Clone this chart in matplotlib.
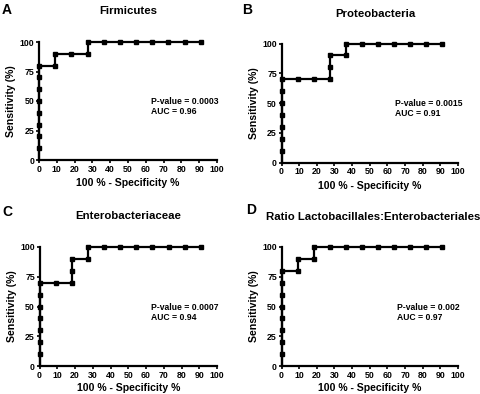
import matplotlib
matplotlib.use("Agg")
import matplotlib.pyplot as plt

plt.rcParams['font.family'] = ['Liberation Sans', 'DejaVu Sans']
plt.rcParams['font.weight'] = 'bold'

step = 100 / 11
titles = ["Firmicutes", "Proteobacteria", "Enterobacteriaceae",
          "Ratio Lactobacillales:Enterobacteriales"]
labels = ["A", "B", "C", "D"]
pvals = ["P-value = 0.0003", "P-value = 0.0015", "P-value = 0.0007", "P-value = 0.002"]
aucs = ["AUC = 0.96", "AUC = 0.91", "AUC = 0.94", "AUC = 0.97"]

# ROC points: x in units of 1/11 (100% - specificity), y sensitivity %
a_x = [0, 0, 0, 0, 0, 0, 0, 0, 1, 1, 2, 3, 3, 4, 5, 6, 7, 8, 9, 10]
a_y = [10, 20, 30, 40, 50, 60, 70, 80, 80, 90, 90, 90, 100, 100, 100, 100, 100, 100, 100, 100]
b_x = [0, 0, 0, 0, 0, 0, 0, 1, 2, 3, 3, 3, 4, 4, 5, 6, 7, 8, 9, 10]
b_y = [10, 20, 30, 40, 50, 60, 70, 70, 70, 70, 80, 90, 90, 100, 100, 100, 100, 100, 100, 100]
c_x = [0, 0, 0, 0, 0, 0, 0, 1, 2, 2, 2, 3, 3, 4, 5, 6, 7, 8, 9, 10]
c_y = [10, 20, 30, 40, 50, 60, 70, 70, 70, 80, 90, 90, 100, 100, 100, 100, 100, 100, 100, 100]
d_x = [0, 0, 0, 0, 0, 0, 0, 0, 1, 1, 2, 2, 3, 4, 5, 6, 7, 8, 9, 10]
d_y = [10, 20, 30, 40, 50, 60, 70, 80, 80, 90, 90, 100, 100, 100, 100, 100, 100, 100, 100, 100]
series = [(a_x, a_y), (b_x, b_y), (c_x, c_y), (d_x, d_y)]

W, H = 480, 394
fig = plt.figure(figsize=(W / 100, H / 100), dpi=100)

# axes boxes in pixels: x0, x1, ytop, ybottom
boxes = [(39, 217, 42, 160), (281.5, 458, 43.5, 162.5),
         (39.5, 217, 247, 366), (281.5, 458, 247, 366)]
label_pos = [(2, 10), (242, 10), (2, 212), (246, 210)]
title_y = [11, 14, 216, 217]
title_x = [128, 375, 128, 373]
text_pos = [(63, 45), (64.5, 45), (63, 45), (65.5, 45)]
xlabel_pad = [3.5, 3.5, 2.8, 2.8]

for i in range(4):
    x0, x1, yt, yb = boxes[i]
    ax = fig.add_axes([x0 / W, (H - yb) / H, (x1 - x0) / W, (yb - yt) / H])
    xs = [v * step for v in series[i][0]]
    ys = series[i][1]
    ax.plot([0] + xs, [0] + ys, color='black', lw=1.6, clip_on=False, zorder=3)
    ax.plot(xs, ys, ls='none', marker='s', ms=3.4, color='black', clip_on=False, zorder=4)
    ax.set_xlim(0, 100)
    ax.set_ylim(0, 100)
    ax.set_xticks(range(0, 101, 10))
    ax.set_yticks([0, 25, 50, 75, 100])
    for s in ['top', 'right']:
        ax.spines[s].set_visible(False)
    for s in ['left', 'bottom']:
        ax.spines[s].set_linewidth(1.6)
    ax.tick_params(width=1.2, length=2.5, labelsize=6.3, pad=0.8)
    for lab in ax.get_xticklabels() + ax.get_yticklabels():
        lab.set_fontweight('bold')
    ax.set_xlabel("100 % - Specificity %", fontsize=7.6, fontweight='bold',
                  labelpad=xlabel_pad[i])
    ax.set_ylabel("Sensitivity (%)", fontsize=7.6, fontweight='bold', labelpad=2.5)
    tx, ty = text_pos[i]
    ax.text(tx, ty, pvals[i] + "\n" + aucs[i], fontsize=6.2, fontweight='bold',
            va='center', ha='left', linespacing=1.15)
    fig.text(title_x[i] / W, 1 - title_y[i] / H, titles[i], fontsize=8.2,
             fontweight='bold', ha='center', va='center')
    lx, ly = label_pos[i]
    fig.text(lx / W, 1 - ly / H, labels[i], fontsize=10, fontweight='bold',
             ha='left', va='center')

fig.savefig("out.png", dpi=100)
